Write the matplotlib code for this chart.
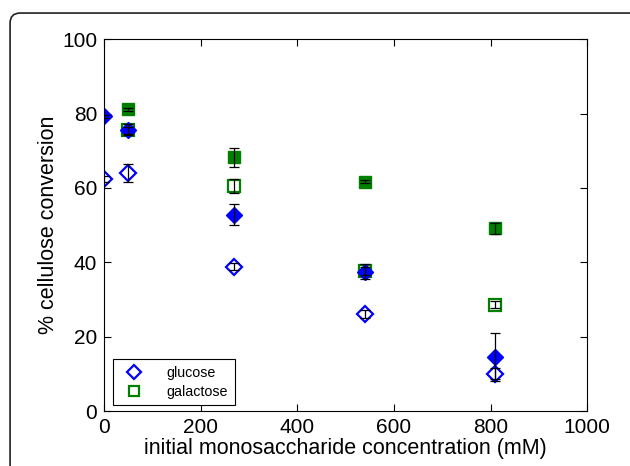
"""
% cellulose conversion vs initial monosaccharide concentration
"""
import matplotlib
matplotlib.use('Agg')
import matplotlib.pyplot as plt
from matplotlib.patches import FancyBboxPatch
from matplotlib.lines import Line2D

plt.rcParams.update({
    'font.family': ['Liberation Sans', 'DejaVu Sans'],
    'xtick.direction': 'in', 'ytick.direction': 'in',
    'xtick.top': True, 'ytick.right': True,
    'axes.linewidth': 0.8,
})

# glucose
glc_x = [0, 50, 270, 540, 810]
glc_open = [62.5, 64.0, 38.8, 26.1, 10.0]
glc_open_err = [0.8, 2.5, 1.0, 1.0, 1.5]
glc_fill = [79.2, 75.7, 52.8, 37.5, 14.6]
glc_fill_err = [0.5, 1.5, 2.8, 2.0, 6.5]
# galactose
gal_x = [50, 270, 540, 810]
gal_open = [75.5, 60.4, 37.7, 28.6]
gal_open_err = [1.0, 1.9, 1.0, 1.0]
gal_fill = [81.1, 68.2, 61.7, 49.1]
gal_fill_err = [0.4, 2.5, 0.5, 1.5]

B, G = '#0000FF', '#008000'

fig = plt.figure(figsize=(6.3, 4.66), dpi=100)
ax = fig.add_axes([0.165, 0.118, 0.767, 0.798])

# markers first, error bars drawn over them (as in the original)
ax.plot(gal_x, gal_fill, 's', ms=9, mfc=G, mec=G, zorder=2)
ax.plot(gal_x, gal_open, 's', ms=9, mfc='none', mec=G, mew=1.6, zorder=2)
ax.plot(glc_x, glc_fill, 'D', ms=8, mfc=B, mec=B, zorder=2)
ax.plot(glc_x, glc_open, 'D', ms=8, mfc='none', mec=B, mew=1.6, zorder=2)
eb = dict(fmt='none', ecolor='black', elinewidth=0.9, capsize=3.5, capthick=0.9, zorder=3)
for xs, ys, es in [(gal_x, gal_fill, gal_fill_err), (gal_x, gal_open, gal_open_err),
                   (glc_x, glc_fill, glc_fill_err), (glc_x, glc_open, glc_open_err)]:
    ax.errorbar(xs, ys, yerr=es, **eb)

ax.set_xlim(0, 1000); ax.set_ylim(0, 100)
ax.set_xticks(range(0, 1001, 200)); ax.set_yticks(range(0, 101, 20))
ax.tick_params(labelsize=15, length=5, width=0.8, pad=5)
ax.set_xlabel('initial monosaccharide concentration (mM)', fontsize=15.5, labelpad=1)
ax.set_ylabel('% cellulose conversion', fontsize=15.5, labelpad=2)

handles = [Line2D([], [], ls='none', marker='D', ms=7, mfc='none', mec=B, mew=1.6),
           Line2D([], [], ls='none', marker='s', ms=7, mfc='none', mec=G, mew=1.6)]
leg = ax.legend(handles, ['glucose', 'galactose'], loc='lower left', bbox_to_anchor=(0.0186, 0.016),
                borderaxespad=0, fontsize=10.3, fancybox=False, edgecolor='black', framealpha=1,
                handletextpad=1.3, borderpad=0.45, labelspacing=0.35)
leg.get_frame().set_linewidth(0.8)

frame = FancyBboxPatch((0.016, -0.05), 1.05, 1.022,
                       boxstyle='round,pad=0,rounding_size=0.016', mutation_aspect=630 / 466,
                       transform=fig.transFigure, fc='none', ec='#222222', lw=1.2, clip_on=False)
fig.patches.append(frame)

fig.savefig('out.png', dpi=100)
